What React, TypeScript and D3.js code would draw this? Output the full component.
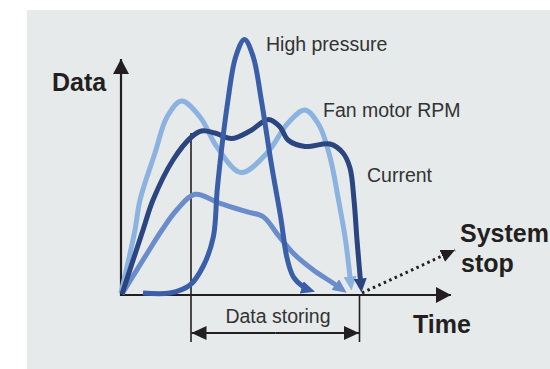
import React, { useEffect, useRef } from "react";
import * as d3 from "d3";

// Data in "chart units": x = time offset from origin, y = data value above the time axis
const fanRpm: [number, number][] = [
  [0, 2], [14, 65], [19, 95], [34, 142], [46, 178], [60.5, 194], [79, 178], [96, 148], [120, 122.5],
  [146, 142], [167, 172], [184, 185], [198, 170], [209, 138], [217.5, 95], [224.5, 55], [230.5, 4.5],
];
const current: [number, number][] = [
  [1, 1], [22, 65], [32, 95], [52, 135], [70.5, 158], [80.5, 164], [94, 162], [110.5, 156.5], [129, 164],
  [147.5, 175.5], [159, 168], [167, 155], [184, 148.5], [209, 151], [222, 142], [229, 127], [233, 95],
  [236, 55], [240.5, 2.5],
];
const highPressure: [number, number][] = [
  [22, 2], [49, 2], [69, 10], [82.3, 29], [92.3, 58], [96.5, 108.3], [107, 195], [114.7, 238.3],
  [123.5, 255.5], [132.2, 238.3], [140.3, 195], [150.8, 128.3], [159.6, 78.3], [166, 37], [172.3, 18.3],
  [182.3, 8.3], [194, 3.3],
];
const lowerSeries: [number, number][] = [
  [1, 1], [27, 43], [41, 65], [55.7, 85], [74, 100.7], [99, 91.7], [125.7, 83.3], [142.3, 78.3],
  [155.7, 61.7], [172.3, 41.7], [192.3, 25], [212.3, 11.7], [225.7, 2.3],
];
const systemStopArrow: [number, number][] = [[241, 2], [334, 45]];
const storingStart = 70;
const storingEnd = 238.5;

const labels = {
  highPressure: "High pressure",
  fan: "Fan motor RPM",
  current: "Current",
  storing: "Data storing",
  yAxis: "Data",
  xAxis: "Time",
  stop1: "System",
  stop2: "stop",
};

const W = 550;
const H = 369;

export default function App() {
  const ref = useRef<SVGSVGElement | null>(null);

  useEffect(() => {
    const svg = d3.select(ref.current);
    svg.selectAll("*").remove();

    const x = d3.scaleLinear().domain([0, 330]).range([121, 451]);
    const y = d3.scaleLinear().domain([0, 236]).range([295, 59]);
    const ink = "#231f20";
    const font = "'Liberation Sans', Arial, Helvetica, sans-serif";

    svg.append("rect").attr("x", 27).attr("y", 10).attr("width", W - 27).attr("height", H - 10).attr("fill", "#e6eaeb");

    const defs = svg.append("defs");
    const mk = (id: string, color: string, len: number, wid: number) => {
      defs.append("marker")
        .attr("id", id)
        .attr("markerUnits", "userSpaceOnUse")
        .attr("viewBox", `0 0 ${len} ${wid}`)
        .attr("markerWidth", len)
        .attr("markerHeight", wid)
        .attr("refX", len)
        .attr("refY", wid / 2)
        .attr("orient", "auto")
        .append("path")
        .attr("d", `M0,0 L${len},${wid / 2} L0,${wid} Z`)
        .attr("fill", color);
    };

    // axes
    const axisG = svg.append("g");
    mk("axArrow", ink, 15, 16);
    axisG.append("line").attr("x1", x(0)).attr("y1", y(0) + 1).attr("x2", x(0)).attr("y2", y(236))
      .attr("stroke", ink).attr("stroke-width", 2.2).attr("marker-end", "url(#axArrow)");
    axisG.append("line").attr("x1", x(0) - 1).attr("y1", y(0)).attr("x2", x(330)).attr("y2", y(0))
      .attr("stroke", ink).attr("stroke-width", 2.2).attr("marker-end", "url(#axArrow)");

    // data storing brackets
    axisG.append("line").attr("x1", x(storingStart)).attr("x2", x(storingStart)).attr("y1", y(162)).attr("y2", 342)
      .attr("stroke", ink).attr("stroke-width", 1.6);
    axisG.append("line").attr("x1", x(storingEnd)).attr("x2", x(storingEnd)).attr("y1", y(0)).attr("y2", 342)
      .attr("stroke", ink).attr("stroke-width", 1.6);
    mk("dsArrow", ink, 15, 14);
    const midX = (x(storingStart) + x(storingEnd)) / 2;
    axisG.append("line").attr("x1", midX).attr("x2", x(storingStart) + 0.5).attr("y1", 333).attr("y2", 333)
      .attr("stroke", ink).attr("stroke-width", 2.2).attr("marker-end", "url(#dsArrow)");
    axisG.append("line").attr("x1", midX).attr("x2", x(storingEnd) - 0.5).attr("y1", 333).attr("y2", 333)
      .attr("stroke", ink).attr("stroke-width", 2.2).attr("marker-end", "url(#dsArrow)");

    // system stop dotted arrow
    mk("stopArrow", ink, 14, 13);
    svg.append("path")
      .attr("d", d3.line()(systemStopArrow.map(([a, b]) => [x(a), y(b)])) as string)
      .attr("stroke", ink).attr("stroke-width", 3).attr("stroke-dasharray", "2.5,3.5").attr("fill", "none")
      .attr("marker-end", "url(#stopArrow)");

    const line = d3.line<[number, number]>().x((d) => x(d[0])).y((d) => y(d[1])).curve(d3.curveCatmullRom.alpha(0.5));

    const series: { data: [number, number][]; color: string; id: string }[] = [
      { data: lowerSeries, color: "#6a8ccb", id: "mLow" },
      { data: fanRpm, color: "#8cb2e0", id: "mFan" },
      { data: current, color: "#2a4580", id: "mCur" },
      { data: highPressure, color: "#3a5ea8", id: "mHp" },
    ];
    series.forEach((s) => {
      mk(s.id, s.color, 14, 13);
      const p = svg.append("path")
        .attr("d", line(s.data) as string)
        .attr("fill", "none")
        .attr("stroke", s.color)
        .attr("stroke-width", 5)
        .attr("stroke-linejoin", "round")
        .attr("marker-end", `url(#${s.id})`);
      const node = p.node() as SVGPathElement;
      const L = node.getTotalLength();
      p.attr("stroke-dasharray", `${L - 10},${L + 20}`);
    });

    const txt = (t: string, px: number, py: number, size: number, bold: boolean, anchor = "start", ls = 0) =>
      svg.append("text").text(t).attr("x", px).attr("y", py).attr("font-family", font)
        .attr("font-size", size).attr("font-weight", bold ? "bold" : "normal")
        .attr("fill", bold ? ink : "#333333").attr("text-anchor", anchor).attr("letter-spacing", ls);

    txt(labels.highPressure, 266, 51, 19.5, false);
    txt(labels.fan, 323, 117, 19.5, false);
    txt(labels.current, 367, 182, 19.5, false);
    txt(labels.storing, 278, 323, 19.5, false, "middle");
    txt(labels.yAxis, 52, 91, 25, true);
    txt(labels.xAxis, 413, 333, 25, true);
    txt(labels.stop1, 460, 242, 25, true);
    txt(labels.stop2, 461, 272, 25, true);
  }, []);

  return (
    <svg ref={ref} width={W} height={H} style={{ position: "absolute", left: 0, top: 0, display: "block" }} />
  );
}
